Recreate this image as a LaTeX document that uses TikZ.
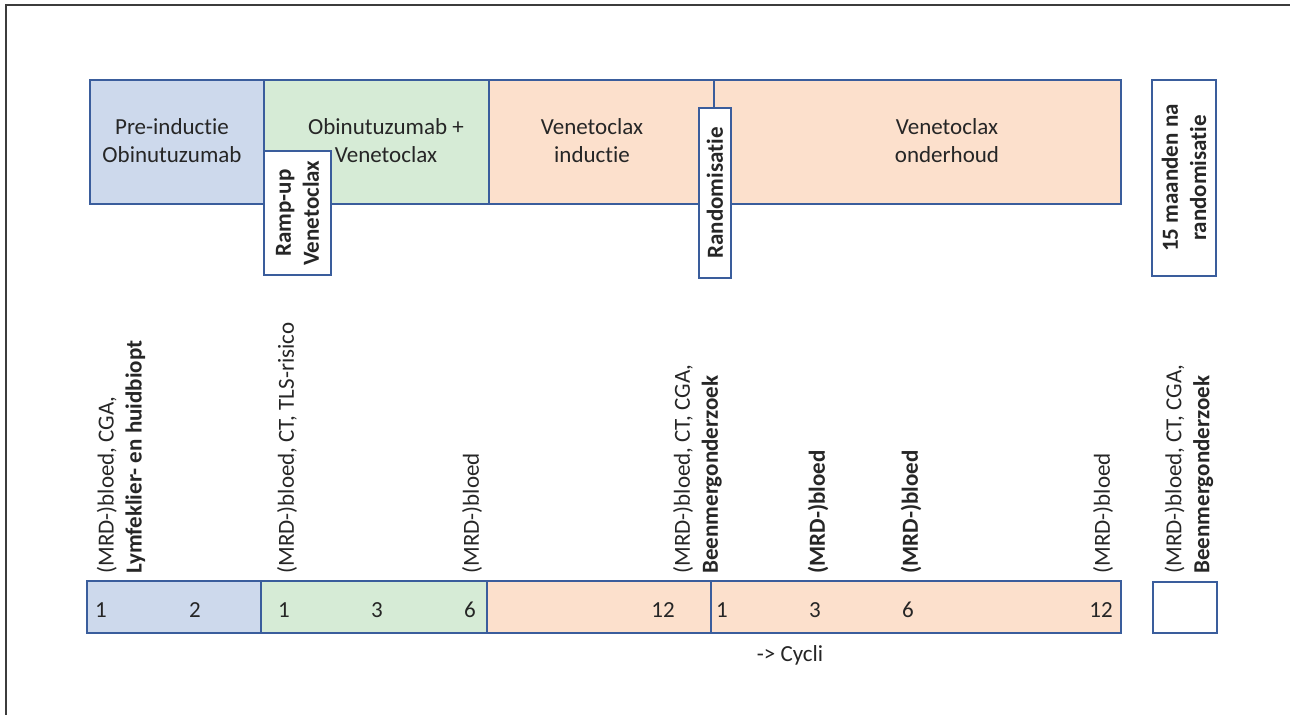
\documentclass[tikz,border=0pt]{standalone}
\usepackage{fontspec}
\setmainfont{Carlito}[Ligatures=NoCommon]
\definecolor{preblue}{HTML}{CDD9EC}
\definecolor{combgreen}{HTML}{D6EBD6}
\definecolor{venorange}{HTML}{FCE0CC}
\definecolor{edgeblue}{HTML}{3A5D9C}
\definecolor{framegray}{HTML}{3C3C3C}
\tikzset{
  phase/.style={draw=edgeblue, line width=0.75pt, inner sep=0pt},
  boxtext/.style={align=center, inner sep=0pt, text=black!85,
    font=\fontsize{11.5}{14}\selectfont},
  flagbox/.style={phase, fill=white, rotate=90, align=center,
    text=black!85, font=\fontsize{11.5}{14}\selectfont\bfseries},
  vlabel/.style={rotate=90, anchor=west, align=left, inner sep=0pt,
    text=black!85, font=\fontsize{11.5}{14}\selectfont},
  cyclenum/.style={inner sep=0pt, text=black!85,
    font=\fontsize{11.5}{14}\selectfont}
}
\begin{document}
\begin{tikzpicture}[x=0.5pt,y=-0.5pt]
  \useasboundingbox (0,0) rectangle (1290,715);
  \draw[framegray, line width=1pt] (6,715) -- (6,5) -- (1290,5);

  % phases
  \node[phase, fill=preblue, minimum width=87pt, minimum height=62pt]
    (pre) at (177,142) {};
  \node[phase, fill=combgreen, minimum width=112.5pt, minimum height=62pt]
    (comb) at (376.5,142) {};
  \node[phase, fill=venorange, minimum width=112.5pt, minimum height=62pt]
    (induct) at (601.5,142) {};
  \node[phase, fill=venorange, minimum width=203.5pt, minimum height=62pt]
    (maint) at (917.5,142) {};
  \node[boxtext] (pretxt) at (172,141) {Pre-inductie\\Obinutuzumab};
  \node[boxtext] (combtxt) at (386,141) {Obinutuzumab +\\Venetoclax};
  \node[boxtext] (inducttxt) at (592,141) {Venetoclax\\inductie};
  \node[boxtext] (mainttxt) at (947,141) {Venetoclax\\onderhoud};

  \node[flagbox, minimum width=62pt, minimum height=33.5pt]
    (rampup) at (297.5,213) {Ramp-up\\Venetoclax};
  \node[flagbox, minimum width=85pt, minimum height=16pt]
    (random) at (715,193) {Randomisatie};
  \node[flagbox, minimum width=98pt, minimum height=32pt]
    (fifteen) at (1184,178) {15 maanden na\\randomisatie};

  % cycles
  \node[phase, fill=preblue, minimum width=87pt, minimum height=26pt]
    (cpre) at (174,607) {};
  \node[phase, fill=combgreen, minimum width=113pt, minimum height=26pt]
    (ccomb) at (374,607) {};
  \node[phase, fill=venorange, minimum width=112pt, minimum height=26pt]
    (cinduct) at (599,607) {};
  \node[phase, fill=venorange, minimum width=205pt, minimum height=26pt]
    (cmaint) at (916,607) {};
  \node[phase, fill=white, minimum width=32pt, minimum height=25.5pt]
    (cend) at (1185,607.5) {};

  \foreach \x/\n [count=\i] in {101/1, 195/2, 284/1, 377/3, 470/6,
      663/12, 722/1, 815/3, 908/6, 1101/12}
    \node[cyclenum] (num\i) at (\x,610) {\n};
  \node[cyclenum] (cycli) at (790,655) {-> Cycli};

  % tests
  \node[vlabel] (test1) at (121,574)
    {(MRD-)bloed, CGA,\\\textbf{Lymfeklier- en huidbiopt}};
  \node[vlabel] (test2) at (287,574) {(MRD-)bloed, CT, TLS-risico};
  \node[vlabel] (test3) at (472,574) {(MRD-)bloed};
  \node[vlabel] (test4) at (697.5,574)
    {(MRD-)bloed, CT, CGA,\\\textbf{Beenmergonderzoek}};
  \node[vlabel] (test5) at (818,574) {\textbf{(MRD-)bloed}};
  \node[vlabel] (test6) at (911,574) {\textbf{(MRD-)bloed}};
  \node[vlabel] (test7) at (1103,574) {(MRD-)bloed};
  \node[vlabel] (test8) at (1189,574)
    {(MRD-)bloed, CT, CGA,\\\textbf{Beenmergonderzoek}};
\end{tikzpicture}
\end{document}
